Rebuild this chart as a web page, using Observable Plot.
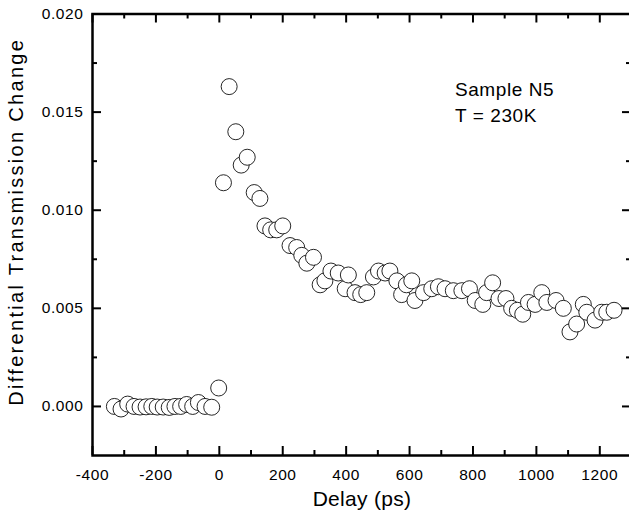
<!DOCTYPE html>
<html>
<head>
<meta charset="utf-8">
<script src="https://cdn.jsdelivr.net/npm/d3@7"></script>
<script src="https://cdn.jsdelivr.net/npm/@observablehq/plot@0.6"></script>
<style>
  html, body { margin: 0; padding: 0; background: #fff; }
  #chart svg { display: block; }
  #chart text { font-family: "Liberation Sans", Arial, sans-serif; letter-spacing: 0.6px; }
</style>
</head>
<body>
<div id="chart"></div>
<script>
// Delay (ps)
const delays = [
  -331, -310, -289, -269, -250, -231, -213, -196, -177, -158, -140, -122, -103, -84, -66, -45, -24, -2,
  13, 31, 52, 69, 88, 110, 128, 144, 162, 181, 200, 223, 244, 260, 276, 297,
  318, 333, 352, 375, 397, 407, 428, 446, 465, 486, 502, 523, 538, 560, 575, 590,
  607, 617, 644, 670, 691, 712, 738, 765, 789, 807, 831, 843, 862, 882, 904, 922,
  940, 957, 975, 996, 1017, 1033, 1062, 1085, 1106, 1127, 1148, 1159, 1185, 1206, 1222, 1245
];
// Differential transmission change
const signal = [
  0.0000, -0.00013, 0.00012, 0.0000, -0.00003, -0.00002, 0.0000, -0.00003, -0.00003, -0.00005, 0.0000, 0.0000, 0.0001, 0.0000, 0.0002, 0.0000, -0.00004, 0.00094,
  0.0114, 0.0163, 0.0140, 0.0123, 0.0127, 0.0109, 0.0106, 0.0092, 0.0090, 0.0090, 0.0092, 0.0082, 0.0081, 0.0077, 0.0073, 0.0076,
  0.0062, 0.0064, 0.0069, 0.0068, 0.0060, 0.0067, 0.0058, 0.0057, 0.0058, 0.0066, 0.0069, 0.0068, 0.0069, 0.0064, 0.0057, 0.0062,
  0.0064, 0.0054, 0.0058, 0.0060, 0.0061, 0.0060, 0.0059, 0.0059, 0.0060, 0.0054, 0.0052, 0.0058, 0.0063, 0.0055, 0.0055, 0.0050,
  0.0049, 0.0047, 0.0053, 0.0052, 0.0058, 0.0053, 0.0054, 0.0050, 0.0038, 0.0042, 0.0052, 0.0048, 0.0044, 0.0048, 0.0048, 0.0049
];

const xMajor = [-400, -200, 0, 200, 400, 600, 800, 1000, 1200];
const xMinor = [-300, -100, 100, 300, 500, 700, 900, 1100];
const yMajor = [0.000, 0.005, 0.010, 0.015, 0.020];
const yMinor = [0.0025, 0.0075, 0.0125, 0.0175];

const noteLines = ["Sample N5", "T = 230K"];
const notePos = {x: 743, y: 0.0156};

const data = delays.map((d, i) => ({delay: d, value: signal[i]}));

const W = 629, H = 518;
const mL = 92, mT = 13.5, mB = 63, mR = -2;
const innerH = H - mT - mB;
const innerW = W - mL - mR;
const majorLen = 9, minorLen = 5;

const chart = Plot.plot({
  width: W,
  height: H,
  marginLeft: mL,
  marginRight: mR,
  marginTop: mT,
  marginBottom: mB,
  style: {fontFamily: "Liberation Sans, Arial, sans-serif", background: "#fff", overflow: "visible"},
  x: {domain: [-400, 1300]},
  y: {domain: [-0.0025, 0.020]},
  marks: [
    // bottom/top ticks
    Plot.tickX(xMajor, {x: d => d, insetTop: innerH - majorLen, stroke: "#000", strokeWidth: 2}),
    Plot.tickX(xMinor, {x: d => d, insetTop: innerH - minorLen, stroke: "#000", strokeWidth: 2}),
    Plot.tickX(xMajor, {x: d => d, insetBottom: innerH - majorLen, stroke: "#000", strokeWidth: 2}),
    Plot.tickX(xMinor, {x: d => d, insetBottom: innerH - minorLen, stroke: "#000", strokeWidth: 2}),
    // left/right ticks
    Plot.tickY(yMajor, {y: d => d, insetRight: innerW - majorLen, stroke: "#000", strokeWidth: 2}),
    Plot.tickY(yMinor, {y: d => d, insetRight: innerW - minorLen, stroke: "#000", strokeWidth: 2}),
    Plot.tickY(yMajor, {y: d => d, insetLeft: innerW - majorLen, stroke: "#000", strokeWidth: 2}),
    Plot.tickY(yMinor, {y: d => d, insetLeft: innerW - minorLen, stroke: "#000", strokeWidth: 2}),
    Plot.axisX({
      ticks: xMajor, tickSize: 0, tickPadding: 13, fontSize: 15.5, tickFormat: d => String(d),
      label: "Delay (ps)", labelAnchor: "center", labelArrow: "none", labelOffset: 50
    }),
    Plot.axisY({
      ticks: yMajor, tickSize: 0, tickPadding: 9, fontSize: 15.5, tickFormat: d3.format(".3f"),
      label: "Differential Transmission Change", labelAnchor: "center", labelArrow: "none", labelOffset: 84
    }),
    Plot.dot(data, {x: "delay", y: "value", r: 8, fill: "#fff", stroke: "#000", strokeWidth: 0.85}),
    Plot.text([noteLines.join("\n")], {
      x: () => notePos.x, y: () => notePos.y, text: d => d,
      textAnchor: "start", lineAnchor: "middle", lineHeight: 1.37, fontSize: 19, fill: "#000"
    }),
    Plot.frame({stroke: "#000", strokeWidth: 2.5})
  ]
});

document.getElementById("chart").appendChild(chart);
// larger axis labels
chart.querySelectorAll('[aria-label="x-axis label"] text').forEach(t => {
  t.setAttribute("font-size", 21);
  t.style.letterSpacing = "0.3px";
});
chart.querySelectorAll('[aria-label="y-axis label"] text').forEach(t => {
  t.setAttribute("font-size", 20);
  t.style.letterSpacing = "2.3px";
  // nudge the rotated label up a little to match the reference placement
  const tr = t.getAttribute("transform") || "";
  t.setAttribute("transform", "translate(0,-13) " + tr);
});
</script>
</body>
</html>
